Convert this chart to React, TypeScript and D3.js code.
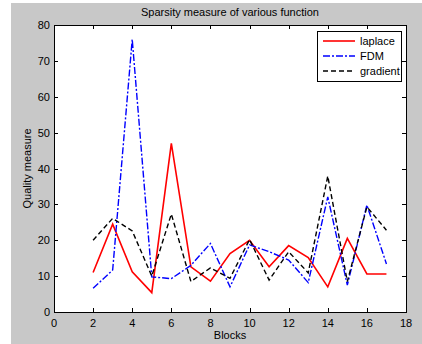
import { useEffect, useRef } from "react"
import * as d3 from "d3"

// Blocks on the x axis
const blocks = [2, 3, 4, 5, 6, 7, 8, 9, 10, 11, 12, 13, 14, 15, 16, 17]

// Quality measure for each function
const laplace = [11, 24.5, 11.2, 5.4, 47, 12.6, 8.6, 16.3, 20, 12.6, 18.5, 15.2, 7, 20.5, 10.6, 10.6]
const fdm = [6.6, 11.7, 76, 9.8, 9.3, 13, 19.1, 7, 18.7, 16.8, 14.5, 8.2, 32.1, 7.5, 29.8, 13.4]
const gradient = [20, 26.1, 22.6, 10, 27.3, 8.5, 12.3, 9.4, 20.2, 8.9, 16.8, 10.9, 37.9, 8.5, 29.3, 22.8]

const xTicks = [0, 2, 4, 6, 8, 10, 12, 14, 16, 18]
const yTicks = [0, 10, 20, 30, 40, 50, 60, 70, 80]

const series = [
  { name: "laplace", values: laplace, color: "#ff0000", dash: "" },
  { name: "FDM", values: fdm, color: "#0000ff", dash: "7,2,2,2" },
  { name: "gradient", values: gradient, color: "#000000", dash: "5,3" },
]

export default function App() {
  const svgRef = useRef<SVGSVGElement>(null)

  useEffect(() => {
    if (!svgRef.current) return
    const root = d3.select(svgRef.current)
    root.selectAll("*").remove()

    const W = 422
    const H = 344
    const font = "'Liberation Sans', Arial, sans-serif"
    const left = 54, right = 406, top = 25, bottom = 312

    // фон фигуры
    root.append("rect").attr("x", 0).attr("y", 0).attr("width", W).attr("height", H).attr("fill", "#ffffff")
    root.append("rect").attr("x", 11).attr("y", 3).attr("width", W - 11).attr("height", H - 3).attr("fill", "#c8c8c8")

    const x = d3.scaleLinear().domain([0, 18]).range([left, right])
    const y = d3.scaleLinear().domain([0, 80]).range([bottom, top])

    root.append("rect")
      .attr("x", left).attr("y", top)
      .attr("width", right - left).attr("height", bottom - top)
      .attr("fill", "#ffffff")

    // Оси
    const tickLen = 4
    const axes = root.append("g").attr("stroke", "#000").attr("stroke-width", 1)
    xTicks.forEach((t) => {
      const px = Math.round(x(t)) + 0.5
      axes.append("line").attr("x1", px).attr("x2", px).attr("y1", bottom).attr("y2", bottom - tickLen)
      axes.append("line").attr("x1", px).attr("x2", px).attr("y1", top).attr("y2", top + tickLen)
      root.append("text")
        .attr("x", x(t)).attr("y", bottom + 15)
        .attr("text-anchor", "middle")
        .attr("font-family", font).attr("font-size", 11)
        .attr("fill", "#000")
        .text(t)
    })
    yTicks.forEach((t) => {
      const py = Math.round(y(t)) + 0.5
      axes.append("line").attr("x1", left).attr("x2", left + tickLen).attr("y1", py).attr("y2", py)
      axes.append("line").attr("x1", right).attr("x2", right - tickLen).attr("y1", py).attr("y2", py)
      root.append("text")
        .attr("x", left - 4).attr("y", y(t) + 4)
        .attr("text-anchor", "end")
        .attr("font-family", font).attr("font-size", 11)
        .attr("fill", "#000")
        .text(t)
    })
    root.append("rect")
      .attr("x", left + 0.5).attr("y", top + 0.5)
      .attr("width", right - left).attr("height", bottom - top)
      .attr("fill", "none").attr("stroke", "#000").attr("stroke-width", 1)

    // Линии
    const line = d3.line<number>()
      .x((_, i) => x(blocks[i]))
      .y((d) => y(d))

    series.forEach((s) => {
      root.append("path")
        .datum(s.values)
        .attr("fill", "none")
        .attr("stroke", s.color)
        .attr("stroke-width", s.name === "laplace" ? 1.6 : 1.4)
        .attr("stroke-dasharray", s.dash)
        .attr("d", line)
    })

    // Подписи
    root.append("text")
      .attr("x", (left + right) / 2).attr("y", 16)
      .attr("text-anchor", "middle")
      .attr("font-family", font).attr("font-size", 11)
      .text("Sparsity measure of various function")
    root.append("text")
      .attr("x", (left + right) / 2).attr("y", 339)
      .attr("text-anchor", "middle")
      .attr("font-family", font).attr("font-size", 11)
      .text("Blocks")
    root.append("text")
      .attr("transform", `translate(31,${(top + bottom) / 2}) rotate(-90)`)
      .attr("text-anchor", "middle")
      .attr("font-family", font).attr("font-size", 11)
      .text("Quality measure")

    // Легенда
    const lg = root.append("g")
    lg.append("rect")
      .attr("x", 317.5).attr("y", 31.5).attr("width", 84).attr("height", 50)
      .attr("fill", "#fff").attr("stroke", "#000").attr("stroke-width", 1)
    series.forEach((s, i) => {
      const ly = 41 + i * 15
      lg.append("line")
        .attr("x1", 323).attr("x2", 355).attr("y1", ly).attr("y2", ly)
        .attr("stroke", s.color)
        .attr("stroke-width", s.name === "laplace" ? 1.6 : 1.4)
        .attr("stroke-dasharray", s.dash)
      lg.append("text")
        .attr("x", 360).attr("y", ly + 4)
        .attr("font-family", font).attr("font-size", 11)
        .text(s.name)
    })
  }, [])

  return (
    <div style={{ position: "absolute", left: 0, top: 0 }}>
      <svg ref={svgRef} width={422} height={344} style={{ display: "block" }} />
    </div>
  )
}
